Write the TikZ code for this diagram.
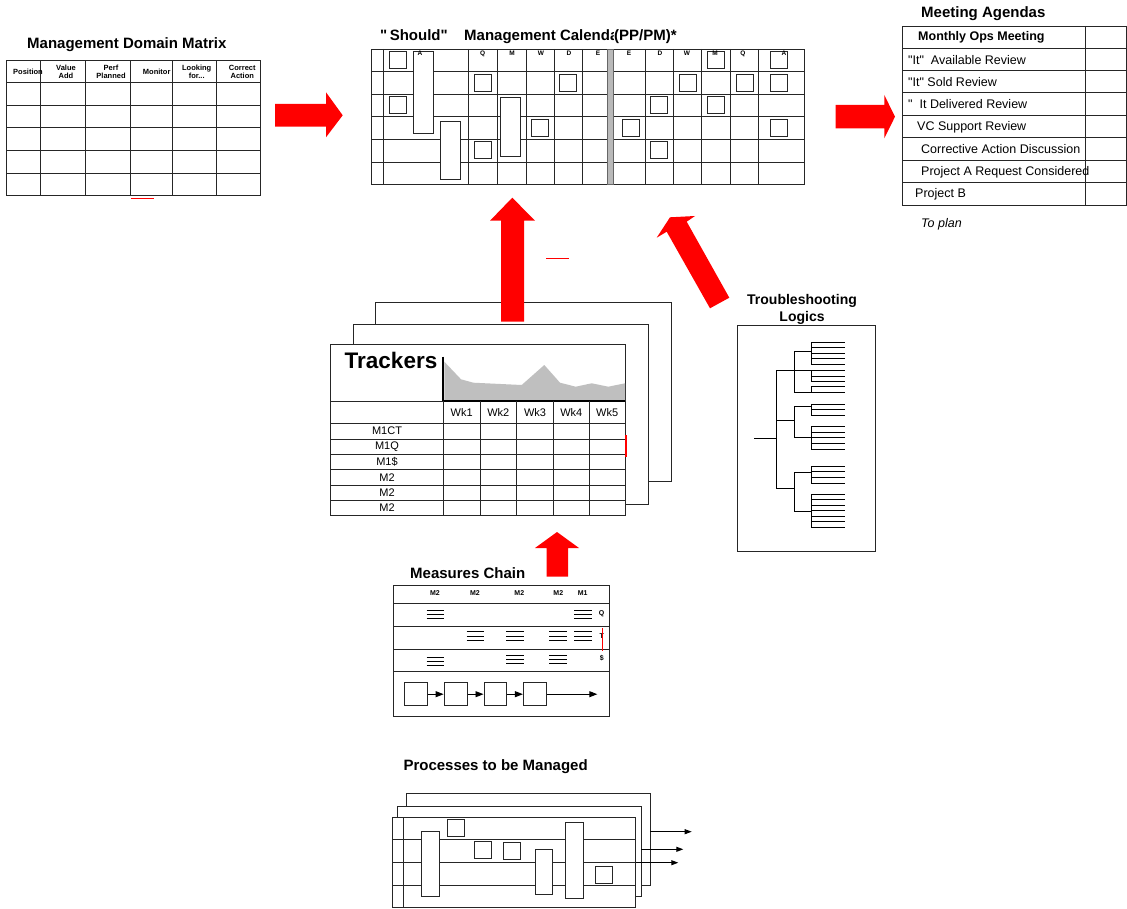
\documentclass[tikz,border=0pt]{standalone}
\usepackage{fontspec}
\setmainfont{Liberation Sans}[Ligatures=TeXOff]
\usetikzlibrary{arrows.meta}
\begin{document}
\begin{tikzpicture}[x=1pt,y=-1pt,
  grid/.style={line width=0.9pt, draw=black!85},
  box/.style={grid, fill=white},
  title/.style={font=\fontsize{15}{15}\selectfont\bfseries, inner sep=0pt},
  hdr/.style={font=\fontsize{7.5}{8}\selectfont\bfseries, inner sep=0pt, align=center},
  tinyl/.style={font=\fontsize{6.5}{6.5}\selectfont\bfseries, inner sep=0pt},
  agenda/.style={font=\fontsize{12.5}{13}\selectfont, inner sep=0pt, anchor=west},
  lab/.style={font=\fontsize{11}{11}\selectfont, inner sep=0pt},
  redarrow/.style={fill=red, draw=none},
  redline/.style={draw=red, line width=1.4pt},
  flow/.style={line width=0.9pt, -{Triangle[length=8pt,width=6pt]}},
  outarrow/.style={line width=0.9pt, -{Triangle[length=7pt,width=5pt]}},
]
\useasboundingbox (0,0) rectangle (1127,909);

% ---------------- Management Domain Matrix ----------------
\node[title, anchor=base west] (mdmT) at (27,48.5) {Management Domain Matrix};
\draw[grid] (6.7,60.7) rectangle (260.7,195.7);
\foreach \y in {82.7,105,127.7,150.3,173.3} \draw[grid] (6.7,\y) -- (260.7,\y);
\foreach \x in {40.7,85,130.3,172.3,216} \draw[grid] (\x,60.7) -- (\x,195.7);
\node[hdr] (mh1) at (28,72) {Position};
\node[hdr] (mh2) at (66,72) {Value\\Add};
\node[hdr] (mh3) at (111,72) {Perf\\Planned};
\node[hdr] (mh4) at (156.7,72) {Monitor};
\node[hdr] (mh5) at (196.7,72) {Looking\\for...};
\node[hdr] (mh6) at (242.3,72) {Correct\\Action};
\draw[redline] (131,198.3) -- (154,198.3);

% ---------------- Management Calendar ----------------
\node[title, anchor=base west] (calS) at (380,41) {"\,Should"};
\node[title, anchor=base west] (calT) at (464,41) {Management Calendar};
\node[title, anchor=base west, fill=white, inner xsep=0pt] (calP) at (614,41) {(PP/PM)*};
\draw[grid] (371.7,49) rectangle (804,184.3);
\foreach \y in {71.7,94,116.7,139.3,162.3} \draw[grid] (371.7,\y) -- (804,\y);
\foreach \x in {383.3,468.3,497.7,526,554.3,582.7,645,673.3,701.7,730,758.3} \draw[grid] (\x,49) -- (\x,184.3);
\draw[draw=gray!80!black, fill=gray!55, line width=0.6pt] (607.7,49) rectangle (613.3,184.3);
% tall bars
\draw[box] (413.3,51.7) rectangle (433.3,133.3);
\draw[box] (440,121) rectangle (460,179.3);
\draw[box] (500,97.7) rectangle (520,156);
% small squares
\foreach \x/\y in {389/51.7, 474.3/74, 559.3/74, 389/96.7, 531/119.3, 474.3/141.7,
  707.7/51, 770/51, 679/74, 736/74, 770/74, 650.7/96.7, 707.7/96.7, 622.3/119.3, 770/119.3, 650.7/141.7}
  \draw[box] (\x,\y) rectangle ++(17,17);
% column letters
\foreach \x/\l in {420/A, 482.7/Q, 512/M, 541/W, 569/D, 598/E, 629/E, 660/D, 687/W, 715/M, 743/Q, 784/A}
  \node[tinyl] at (\x,53.5) {\l};

% ---------------- Meeting Agendas ----------------
\node[title, anchor=base west] (magT) at (921,17.5) {Meeting Agendas};
\draw[grid] (1127,26) -- (902.3,26) -- (902.3,205) -- (1127,205);
\draw[grid] (1126.5,26) -- (1126.5,205);
\foreach \y in {48.3,70,92.7,115,137.7,160,182.7} \draw[grid] (902.3,\y) -- (1127,\y);
\draw[grid] (1085,26) -- (1085,205);
\node[agenda, font=\fontsize{12.5}{13}\selectfont\bfseries] (ag1) at (918,37.5) {Monthly Ops Meeting};
\node[agenda] (ag2) at (908,60) {"It"\ \ Available Review};
\node[agenda] (ag3) at (908,82) {"It"\ Sold Review};
\node[agenda] (ag4) at (908,104.5) {"\ \ It Delivered Review};
\node[agenda] (ag5) at (917,127) {VC Support Review};
\node[agenda] (ag6) at (921,149.5) {Corrective Action Discussion};
\node[agenda] (ag7) at (921,172) {Project A Request Considered};
\node[agenda] (ag8) at (915,194.5) {Project B};
\node[agenda, font=\fontsize{12.5}{13}\selectfont\itshape] (agplan) at (921,224) {To plan};

% ---------------- Trackers ----------------
\draw[box] (375.7,302.3) rectangle (671.7,481.7);
\draw[box] (353.3,324.3) rectangle (648.3,504);
\draw[box] (330.7,344.3) rectangle (625,515.7);
\fill[gray!50] (444.3,361.7) -- (461,379.3) -- (473.3,382.7) -- (521.7,385) -- (544.3,365) -- (560,382.7) -- (575.7,386.7) -- (591.7,383.3) -- (608.3,386.7) -- (625,383.3) -- (625,401) -- (444.3,401) -- cycle;
\draw[line width=2pt] (443.3,356.7) -- (443.3,401) -- (625,401);
\draw[grid] (330.7,401) -- (443.3,401);
\foreach \y in {423.3,439,454.3,469.3,485,500} \draw[grid] (330.7,\y) -- (625,\y);
\foreach \x in {443.3,480,516.7,553.3,589.3} \draw[grid] (\x,401) -- (\x,515.7);
\node[font=\fontsize{22.5}{23}\selectfont\bfseries, inner sep=0pt] (trT) at (391,360) {Trackers};
\foreach \x/\l in {461.7/Wk1, 498.3/Wk2, 535/Wk3, 571.3/Wk4, 607.2/Wk5}
  \node[lab] at (\x,412.2) {\l};
\foreach \y/\l in {431.2/M1CT, 446.7/M1Q, 461.8/M1\$, 477.2/M2, 492.5/M2, 507.8/M2}
  \node[lab] at (387,\y) {\l};
\draw[redline] (626,435) -- (626,456.7);

% ---------------- Troubleshooting Logics ----------------
\node[font=\fontsize{14}{17}\selectfont\bfseries, inner sep=0pt, align=center] (tsT) at (802,309) {Troubleshooting\\Logics};
\draw[grid] (737.3,325) rectangle (875,551);
\begin{scope}[line width=0.9pt]
\draw (754,438.3) -- (776,438.3);
\draw (776,370) -- (776,488.3);
\foreach \y in {370,420.7,488.3} \draw (776,\y) -- (794,\y);
\draw (794,351.7) -- (794,392.3);
\foreach \y in {351.7,370.7,392.3} \draw (794,\y) -- (811,\y);
\draw (794,406.7) -- (794,437.3);
\foreach \y in {406.7,437.3} \draw (794,\y) -- (811,\y);
\draw (794,472.3) -- (794,511.7);
\foreach \y in {472.3,511.7} \draw (794,\y) -- (811,\y);
\draw (811,342.3) -- (811,364);
\draw (811,370.7) -- (811,381.3);
\draw (811,386.7) -- (811,392.3);
\draw (811,404) -- (811,415);
\draw (811,426.7) -- (811,449);
\draw (811,466) -- (811,483);
\draw (811,494) -- (811,527.3);
\foreach \y in {342.3,347.7,353,358.5,364, 370.7,376,381.3, 386.7,392.3, 404,409.5,415, 426.7,432.3,437.8,443.4,449, 466,471.7,477.3,483, 494,499.5,505,510.5,516.2,521.8,527.3}
  \draw (811,\y) -- (845,\y);
\end{scope}

% ---------------- Measures Chain ----------------
\node[title, anchor=base west] (mcT) at (410,578) {Measures Chain};
\draw[grid] (393.3,585) rectangle (609,716);
\foreach \y in {603.3,626,649.3,671.7} \draw[grid] (393.3,\y) -- (609,\y);
\foreach \x/\l in {435/M2, 475/M2, 519.3/M2, 558.3/M2, 582.7/M1}
  \node[font=\fontsize{7}{7}\selectfont\bfseries, inner sep=0pt] at (\x,592.7) {\l};
\foreach \l/\y in {Q/614, T/636, \$/658.3}
  \node[font=\fontsize{7}{7}\selectfont\bfseries, inner sep=0pt] at (601.7,\y) {\l};
\foreach \x/\y in {426.7/610, 574.3/610, 466.7/631.7, 506/631.7, 549/631.7, 574.3/631.7, 426.7/657, 506/655, 549/655}
  \foreach \d in {0,4.3,8.6} \draw[line width=0.9pt] (\x,\y+\d) -- ++(17.6,0);
\draw[redline] (602.7,628.3) -- (602.7,650.7);
\node[box, minimum width=23.3pt, minimum height=23pt, inner sep=0pt] (c1) at (415.7,694.2) {};
\node[box, minimum width=23.3pt, minimum height=23pt, inner sep=0pt] (c2) at (455.7,694.2) {};
\node[box, minimum width=22.7pt, minimum height=23pt, inner sep=0pt] (c3) at (495.3,694.2) {};
\node[box, minimum width=23.3pt, minimum height=23pt, inner sep=0pt] (c4) at (535,694.2) {};
\coordinate (cend) at (597.3,694.2);
\draw[flow] (c1) -- (c2);
\draw[flow] (c2) -- (c3);
\draw[flow] (c3) -- (c4);
\draw[flow] (c4) -- (cend);

% ---------------- Processes to be Managed ----------------
\node[title, anchor=base west] (prT) at (403.3,770.5) {Processes to be Managed};
\draw[box] (406.7,793.3) rectangle (650,885);
\draw[box] (397.7,806) rectangle (641,896);
\draw[box] (392.3,817.3) rectangle (635.7,907.3);
\draw[grid] (403.3,817.3) -- (403.3,907.3);
\foreach \y in {839.3,862.7,885} \draw[grid] (392.3,\y) -- (635.7,\y);
\draw[box] (421.7,831) rectangle (439.3,896);
\draw[box] (535,849.3) rectangle (552.3,894.3);
\draw[box] (565.7,822.7) rectangle (583.3,898.3);
\foreach \x/\y in {447.7/819.3, 474/841, 503.3/842.3, 595/866}
  \draw[box] (\x,\y) rectangle ++(17,17);
\coordinate (po1s) at (650,831.7); \coordinate (po1e) at (691.7,831.7);
\coordinate (po2s) at (641,849.3); \coordinate (po2e) at (683.3,849.3);
\coordinate (po3s) at (635.7,862.7); \coordinate (po3e) at (678.3,862.7);
\draw[outarrow] (po1s) -- (po1e);
\draw[outarrow] (po2s) -- (po2e);
\draw[outarrow] (po3s) -- (po3e);

% ---------------- Red block arrows ----------------
\fill[redarrow] (275,104) -- (326,104) -- (326,92.3) -- (342.7,115.3) -- (326,137.3) -- (326,126.7) -- (275,126.7) -- cycle;
\fill[redarrow] (835.7,105) -- (884.3,105) -- (884.3,95) -- (895,116.7) -- (884.3,138.3) -- (884.3,128.3) -- (835.7,128.3) -- cycle;
\fill[redarrow] (501,321.7) -- (501,220.7) -- (490,220.7) -- (512.3,197.7) -- (535,220.7) -- (524,220.7) -- (524,321.7) -- cycle;
\fill[redarrow] (710,308.3) -- (666.7,231.7) -- (656.7,237.7) -- (670,217.3) -- (695,216) -- (686.7,221.7) -- (729.3,297.7) -- cycle;
\fill[redarrow] (546.7,576.7) -- (546.7,548) -- (535,548) -- (557,532) -- (579,548) -- (568,548) -- (568,576.7) -- cycle;
\draw[draw=red, line width=1pt] (546,259) -- (569,259);
\end{tikzpicture}
\end{document}
